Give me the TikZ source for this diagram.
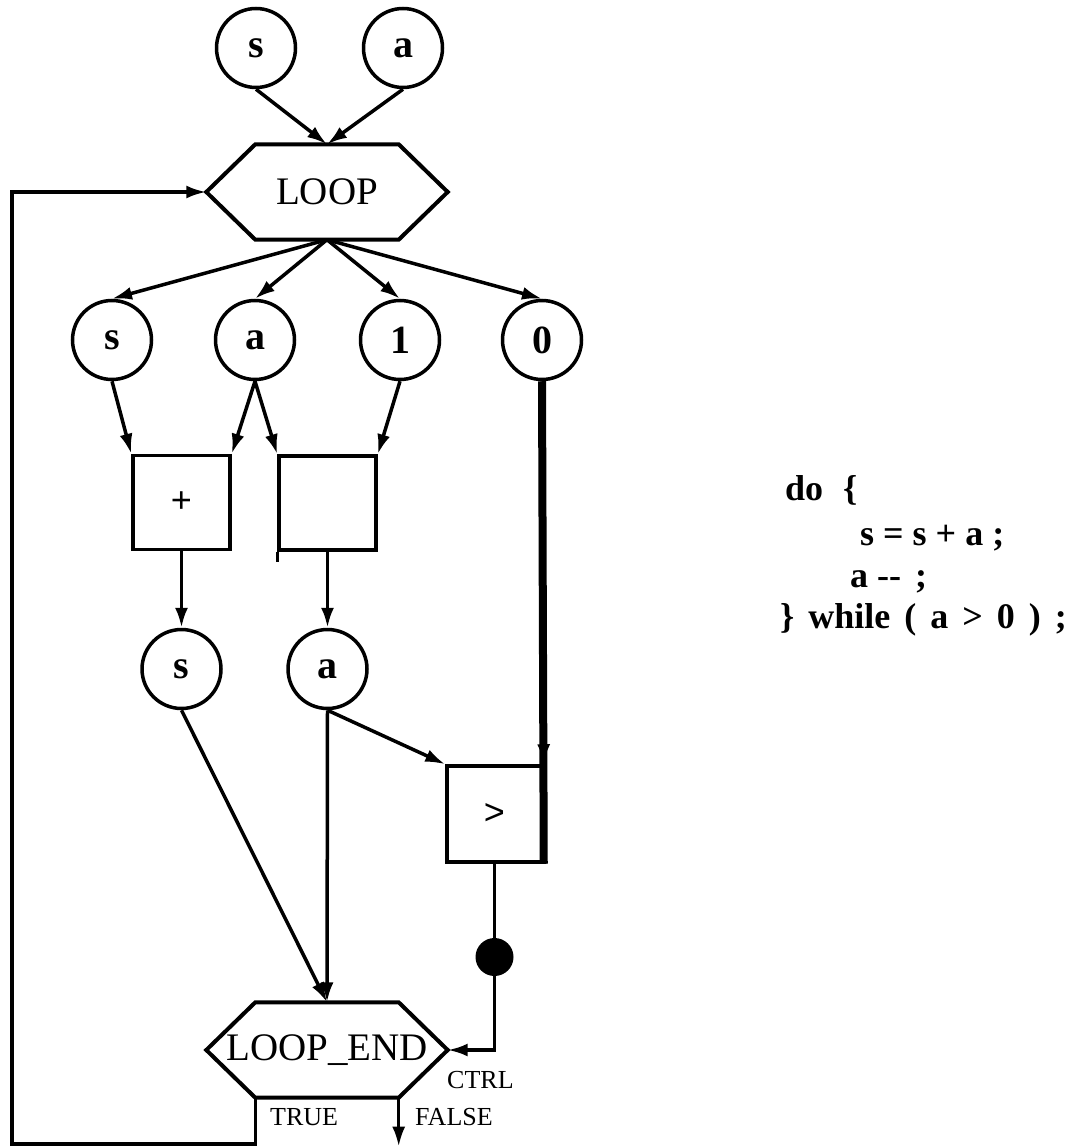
\documentclass[tikz,border=0pt]{standalone}
\usepackage{fontspec}
\setmainfont{Liberation Serif}
\newfontfamily\opfont{Liberation Sans}
\usetikzlibrary{arrows.meta,calc}

\begin{document}
\begin{tikzpicture}[x=1pt,y=-1pt,
  var/.style={circle, draw, line width=3.5pt, minimum size=79pt, inner sep=0pt,
    font=\fontsize{40}{40}\selectfont\bfseries},
  opbox/.style={draw, line width=3.5pt, inner sep=0pt, minimum width=97pt, minimum height=94pt,
    font=\opfont\fontsize{36}{36}\selectfont},
  hexcore/.style={minimum width=143pt, minimum height=95pt, inner sep=0pt,
    font=\fontsize{39}{39}\selectfont},
  outline/.style={line width=4pt, line join=miter},
  arr/.style={line width=3.5pt, -{Latex[length=20pt,width=13pt]}},
  wire/.style={line width=3.5pt},
  tag/.style={font=\fontsize{26}{26}\selectfont, inner sep=0pt, anchor=west},
  code/.style={font=\bfseries\fontsize{36}{40}\selectfont, anchor=base west, inner sep=0pt}
]
\useasboundingbox (0,0) rectangle (1070,1147);

% incoming values
\node[var] (s1) at (256,48) {s};
\node[var] (a1) at (403,48) {a};

% LOOP header
\node[hexcore] (loop) at (327,192) {\makebox[0pt]{LOOP}};
\coordinate (loopE) at ($(loop.east)+(49,0)$);
\coordinate (loopW) at ($(loop.west)-(49,0)$);
\draw[outline] (loop.north west) -- (loop.north east) -- (loopE) -- (loop.south east)
  -- (loop.south west) -- (loopW) -- cycle;

% loop body inputs
\node[var] (s2) at (112,340) {s};
\node[var] (a2) at (255,340) {a};
\node[var] (one) at (400,340) {1};
\node[var] (zero) at (542,340) {0};

% operators
\node[opbox] (plus) at (181.5,502.5) {+};
\node[opbox] (dec) at (327.5,503) {};
\node[opbox, minimum width=95pt, minimum height=96pt] (gt) at (494.5,814) {>};

% results
\node[var] (s3) at (181.5,669) {s};
\node[var] (a3) at (327.5,669) {a};

% control token
\node[circle, fill, minimum size=38pt, inner sep=0pt] (dot) at (494.5,957) {};

% LOOP_END
\node[hexcore] (lend) at (327,1050) {\makebox[0pt]{LOOP\_END}};
\coordinate (lendE) at ($(lend.east)+(49,0)$);
\coordinate (lendW) at ($(lend.west)-(49,0)$);
\draw[outline] (lend.north west) -- (lend.north east) -- (lendE) -- (lend.south east)
  -- (lend.south west) -- (lendW) -- cycle;

% connectors
\draw[arr] (s1.south) -- (loop.north);
\draw[arr] (a1.south) -- (loop.north);
\draw[arr] (loop.south) -- (s2.north);
\draw[arr] (loop.south) -- (a2.north);
\draw[arr] (loop.south) -- (one.north);
\draw[arr] (loop.south) -- (zero.north);

\draw[arr] (s2.south) -- (plus.north west);
\draw[arr] (a2.south) -- (plus.north east);
\draw[arr] (a2.south) -- (dec.north west);
\draw[arr] (one.south) -- (dec.north east);
\draw[wire] (dec.south west) -- ++(0,10);

\draw[arr] (plus.south) -- (s3.north);
\draw[arr] (dec.south) -- (a3.north);

\draw[arr] (zero.south) -- (gt.north east);
\draw[line width=8pt] (zero.south) -- (gt.south east);
\draw[arr] (a3.south) -- (gt.north west);

\draw[arr] (s3.south) -- (lend.north);
\draw[arr] (a3.south) -- (lend.north);

\draw[wire] (gt.south) -- (dot);
\draw[arr] (dot) |- (lendE);

\coordinate (backCorner) at (12,1144);
\draw[arr] (lend.south west) |- (backCorner) |- (loopW);
\coordinate (falseEnd) at ($(lend.south east)+(0,49)$);
\draw[arr] (lend.south east) -- (falseEnd);

% port labels
\node[tag] (ctrl) at (447,1080) {CTRL};
\node[tag] (true) at (270,1117) {TRUE};
\node[tag] (false) at (415,1117) {FALSE};

% source program
\node[code] (l1) at (785,500) {do\hspace{20pt}\{};
\node[code] (l2) at (860,545) {s = s + a ;};
\node[code] (l3) at (850,587) {a {-}{-}\hspace{14pt};};
\node[code] (l4) at (780,628) {\spaceskip=14pt\relax \} while ( a > 0 ) ;};
\end{tikzpicture}
\end{document}
